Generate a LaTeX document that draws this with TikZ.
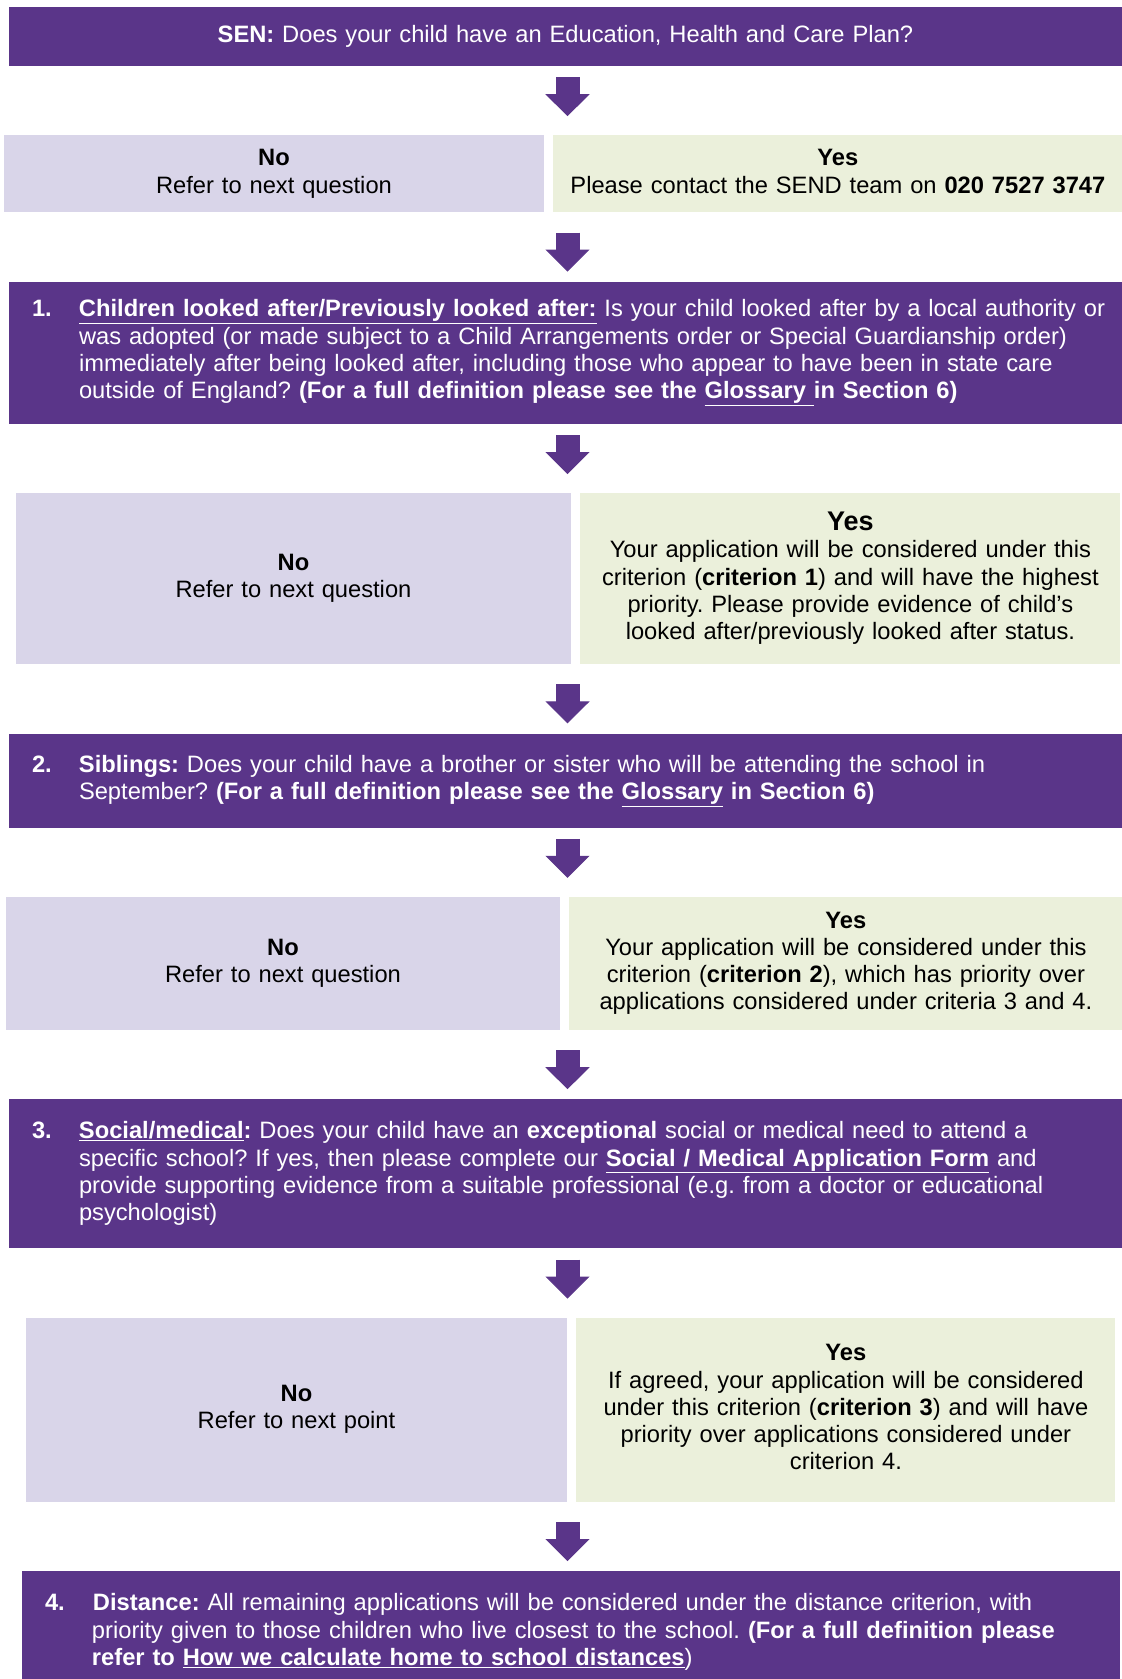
\documentclass[tikz,border=0pt]{standalone}
\usepackage{fontspec}
\setmainfont{Liberation Sans}
\usepackage{xcolor}
\definecolor{sendpurple}{RGB}{90,53,137}
\definecolor{nolilac}{RGB}{217,213,233}
\definecolor{yesgreen}{RGB}{235,240,219}
\usetikzlibrary{positioning, calc, arrows.meta}
\newcommand{\cont}{\hspace*{47pt}}
\newcommand{\linestrut}{\rule[-5.5pt]{0pt}{22pt}}
\tikzstyle{Box} = [inner ysep=0pt,
execute at begin node=\linestrut, execute at end node=\linestrut]
\tikzstyle{Question} = [Box,
fill=sendpurple, text=white,
align=left, inner xsep=23pt,
text width=1090pt]
\tikzstyle{NoBox} = [Box, fill=nolilac, align=center, inner xsep=0pt]
\tikzstyle{YesBox} = [Box, fill=yesgreen, align=center, inner xsep=0pt]
\tikzstyle{Arrow} = [
draw=sendpurple, line width=24pt,
-{Triangle[width=44pt, length=22pt, line width=1pt]}]
\tikzstyle{FromQuestion} = [Arrow, shorten <=11pt, shorten >=19pt]
\tikzstyle{FromAnswer} = [Arrow, shorten <=20pt, shorten >=10pt]

\begin{document}
\frenchspacing
\begin{tikzpicture}[font=\fontsize{23.7}{27.3}\selectfont]
    \useasboundingbox (0,0) rectangle (1122pt,-1679pt);
    \clip (0,0) rectangle (1122pt,-1679pt);
    \coordinate (mid) at (567.5pt,0);

    \node [Question, align=center, text width=1067pt, minimum height=59pt] (sen) at (565.5pt,-36.5pt)
        {\textbf{SEN:} Does your child have an Education, Health and Care Plan?};

    \node [NoBox, below=69pt of sen.south west, anchor=north west, xshift=-5pt,
        text width=540pt, minimum height=77pt] (no1) {\textbf{No}\\Refer to next question};
    \node [YesBox, right=9pt of no1, text width=569pt, minimum height=77pt] (yes1)
        {\textbf{Yes}\\Please contact the SEND team on \textbf{020 7527 3747}};

    \node [Question, below=69pt of no1.south west, anchor=north west, xshift=5pt,
        minimum height=142pt] (q1)
        {\makebox[47pt][l]{\textbf{1.}}\underline{\textbf{Children looked after/Previously looked after:}} Is your child looked after by a local authority or\\
        \cont was adopted (or made subject to a Child Arrangements order or Special Guardianship order)\\
        \cont immediately after being looked after, including those who appear to have been in state care\\
        \cont outside of England? \textbf{(For a full definition please see the \underline{Glossary\ }in Section 6)}};

    \node [NoBox, below=69pt of q1.south west, anchor=north west, xshift=7pt,
        text width=555pt, minimum height=171pt] (no2) {\textbf{No}\\Refer to next question};
    \node [YesBox, right=9pt of no2, text width=540pt, minimum height=171pt] (yes2)
        {{\fontsize{27}{30}\selectfont\textbf{Yes}}\\Your application will be considered under this\\
        criterion (\textbf{criterion 1}) and will have the highest\\
        priority. Please provide evidence of child’s\\
        looked after/previously looked after status.};

    \node [Question, below=69pt of no2.south west, anchor=north west, xshift=-7pt,
        minimum height=94pt] (q2)
        {\makebox[47pt][l]{\textbf{2.}}\textbf{Siblings:} Does your child have a brother or sister who will be attending the school in\\
        \cont September? \textbf{(For a full definition please see the \underline{Glossary} in Section 6)}};

    \node [NoBox, below=69pt of q2.south west, anchor=north west, xshift=-3pt,
        text width=554pt, minimum height=133pt] (no3) {\textbf{No}\\Refer to next question};
    \node [YesBox, right=9pt of no3, text width=553pt, minimum height=133pt] (yes3)
        {\textbf{Yes}\\Your application will be considered under this\\
        criterion (\textbf{criterion 2}), which has priority over\\
        applications considered under criteria 3 and 4.};

    \node [Question, below=69pt of no3.south west, anchor=north west, xshift=3pt,
        minimum height=149pt] (q3)
        {\makebox[47pt][l]{\textbf{3.}}\underline{\textbf{Social/medical}}\textbf{:} Does your child have an \textbf{exceptional} social or medical need to attend a\\
        \cont specific school? If yes, then please complete our \underline{\textbf{Social / Medical Application Form}} and\\
        \cont provide supporting evidence from a suitable professional (e.g. from a doctor or educational\\
        \cont psychologist)};

    \node [NoBox, below=69pt of q3.south west, anchor=north west, xshift=17pt,
        text width=541pt, minimum height=184pt] (no4) {\textbf{No}\\Refer to next point};
    \node [YesBox, right=9pt of no4, text width=539pt, minimum height=184pt] (yes4)
        {\textbf{Yes}\\If agreed, your application will be considered\\
        under this criterion (\textbf{criterion 3}) and will have\\
        priority over applications considered under\\
        criterion 4.};

    \node [Question, below=69pt of no4.south west, anchor=north west, xshift=-4pt,
        text width=1052pt, minimum height=122pt] (q4)
        {\makebox[48pt][l]{\textbf{4.}}\textbf{Distance:} All remaining applications will be considered under the distance criterion, with\\
        \cont priority given to those children who live closest to the school. \textbf{(For a full definition please}\\
        \cont \textbf{refer to \underline{How we calculate home to school distances}})};

    % arrows down the chart
    \draw[FromQuestion] (sen.south -| mid) -- (no1.north -| mid);
    \draw[FromAnswer] (no1.south -| mid) -- (q1.north -| mid);
    \draw[FromQuestion] (q1.south -| mid) -- (no2.north -| mid);
    \draw[FromAnswer] (no2.south -| mid) -- (q2.north -| mid);
    \draw[FromQuestion] (q2.south -| mid) -- (no3.north -| mid);
    \draw[FromAnswer] (no3.south -| mid) -- (q3.north -| mid);
    \draw[FromQuestion] (q3.south -| mid) -- (no4.north -| mid);
    \draw[FromAnswer] (no4.south -| mid) -- (q4.north -| mid);
\end{tikzpicture}
\end{document}
